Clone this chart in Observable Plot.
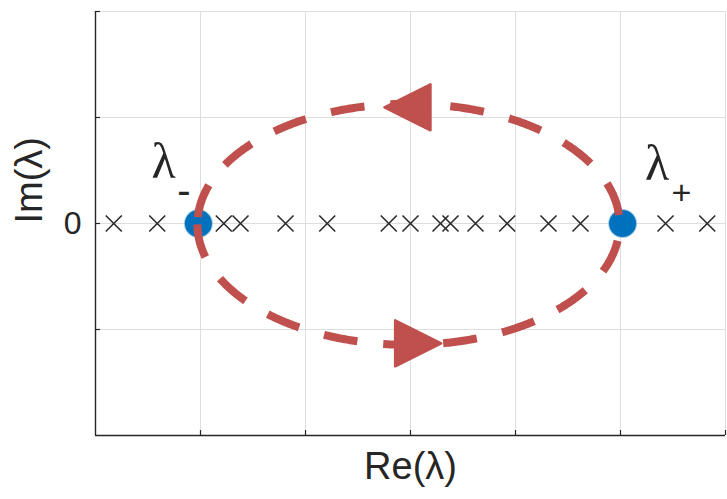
<!DOCTYPE html>
<html><head><meta charset="utf-8">
<script src="https://cdn.jsdelivr.net/npm/d3@7"></script>
<script src="https://cdn.jsdelivr.net/npm/@observablehq/plot@0.6"></script>
<style>
html,body{margin:0;padding:0;background:#fff;}
</style>
</head><body><div id="chart"></div>
<script>
// ---- data ----
const xTicks = [-3, -2, -1, 0, 1, 2, 3];
const yTicks = [-2, -1, 0, 1, 2];
const yTickValues = [0];
const yTickLabels = ["0"];
const crossRe = [-2.826, -2.412, -1.778, -1.619, -1.190, -0.793, -0.207, 0.000,
                 0.286, 0.381, 0.619, 0.921, 1.314, 1.619, 2.429, 2.826];
const eigRe = [-2.02, 2.02];
const eigLabel = ["λ", "λ"];
const eigLabelRe = [-2.352, 2.348];
const eigLabelIm = [0.577, 0.558];
const eigSub = ["-", "+"];
const eigSubRe = [-2.157, 2.581];
const eigSubIm = [0.308, 0.29];
const eigSubSize = [40, 34];
const contourCenter = [-0.019, -0.008];
const contourRadii = [2.01, 1.137];
const arrowRe = [-0.029, 0.073];
const arrowIm = [1.096, -1.130];
const arrowDir = ["left", "right"];
const xLabel = "Re(λ)";
const yLabel = "Im(λ)";

// ---- derived tables ----
const crosses = crossRe.map(x => ({x, y: 0}));
const eig = eigRe.map((x, i) => ({x, y: 0, label: eigLabel[i], lx: eigLabelRe[i], ly: eigLabelIm[i],
  sub: eigSub[i], sx: eigSubRe[i], sy: eigSubIm[i], ss: eigSubSize[i]}));
const contour = d3.range(0, 721).map(k => {
  const t = Math.PI + k * Math.PI / 360;
  return {x: contourCenter[0] + contourRadii[0] * Math.cos(t), y: contourCenter[1] + contourRadii[1] * Math.sin(t)};
});
const arrows = arrowRe.map((x, i) => ({x, y: arrowIm[i], dir: arrowDir[i]}));

const red = "#C0504D";
const ink = "#262626";
const grid = "#dedede";

const crossSymbol = {draw(c, size) { const s = Math.sqrt(size / Math.PI);
  c.moveTo(-s, -s); c.lineTo(s, s); c.moveTo(-s, s); c.lineTo(s, -s); }};
const triLeft = {draw(c, size) { const s = Math.sqrt(size / Math.PI);
  c.moveTo(-s, 0); c.lineTo(s, -s); c.lineTo(s, s); c.closePath(); }};
const triRight = {draw(c, size) { const s = Math.sqrt(size / Math.PI);
  c.moveTo(s, 0); c.lineTo(-s, -s); c.lineTo(-s, s); c.closePath(); }};

const chart = Plot.plot({
  width: 727, height: 499,
  marginLeft: 95, marginRight: 2, marginTop: 11, marginBottom: 64,
  x: {domain: [-3, 3], axis: null},
  y: {domain: [-2, 2], axis: null},
  style: {fontFamily: "'Liberation Sans', Arial, sans-serif", background: "white", overflow: "visible"},
  marks: [
    Plot.ruleX(xTicks.slice(1), {stroke: grid, strokeWidth: 1}),
    Plot.ruleY(yTicks.slice(1), {stroke: grid, strokeWidth: 1}),
    Plot.ruleX([-3], {stroke: ink, strokeWidth: 1.4}),
    Plot.ruleY([-2], {stroke: ink, strokeWidth: 1.4}),
    Plot.ruleX(xTicks.slice(1), {y1: -2, y2: -2, insetTop: -5, stroke: ink, strokeWidth: 1.2}),
    Plot.ruleY(yTicks.slice(1), {x1: -3, x2: -3, insetRight: -5, stroke: ink, strokeWidth: 1.2}),
    Plot.text(yTickValues, {x: -3, y: d => d, text: (d, i) => yTickLabels[i], dx: -14, textAnchor: "end", fontSize: 32, fill: ink}),
    Plot.text([xLabel], {frameAnchor: "bottom", text: d => d, dy: 43, fontSize: 38, fill: ink}),
    Plot.text([yLabel], {frameAnchor: "left", text: d => d, dx: -66, rotate: -90, fontSize: 38, fill: ink}),
    Plot.dot(crosses, {x: "x", y: "y", symbol: crossSymbol, r: 8, fill: "none", stroke: "#2a2a2a", strokeWidth: 1.6}),
    Plot.dot(eig, {x: "x", y: "y", r: 13.5, fill: "#0072BD", stroke: "#0072BD", strokeOpacity: 0.35, strokeWidth: 2}),
    Plot.line(contour, {x: "x", y: "y", stroke: red, strokeWidth: 8, strokeDasharray: "34,26", strokeLinecap: "butt"}),
    Plot.dot(arrows.filter(d => d.dir === "left"), {x: "x", y: "y", symbol: triLeft, r: 23, fill: red, stroke: red, strokeWidth: 2.5, strokeLinejoin: "round"}),
    Plot.dot(arrows.filter(d => d.dir === "right"), {x: "x", y: "y", symbol: triRight, r: 23, fill: red, stroke: red, strokeWidth: 2.5, strokeLinejoin: "round"}),
    Plot.text(eig, {x: "lx", y: "ly", text: "label", fontSize: 50, fontFamily: "'Liberation Serif', 'Times New Roman', serif", fill: ink}),
    Plot.text(eig, {x: "sx", y: "sy", text: "sub", fontSize: d => d.ss, fill: ink})
  ]
});
document.getElementById("chart").appendChild(chart);
</script>
</body></html>
